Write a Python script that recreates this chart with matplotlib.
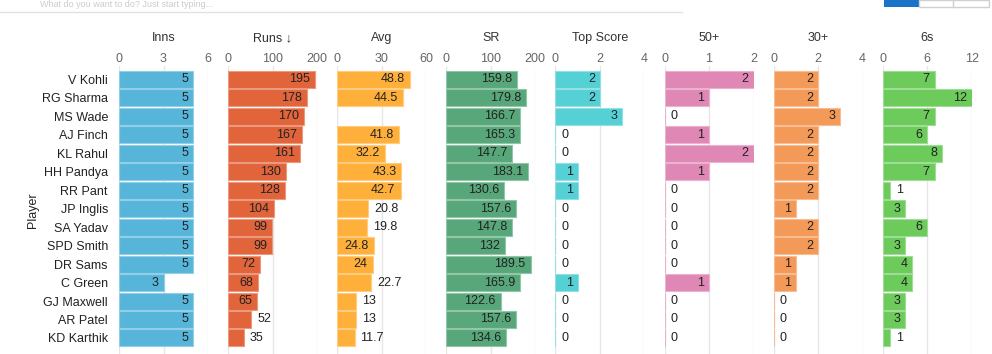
import matplotlib
matplotlib.use('Agg')
import matplotlib.pyplot as plt
from matplotlib.colors import to_rgb
from matplotlib.patches import Rectangle
import numpy as np

plt.rcParams['font.family'] = ['Liberation Sans', 'DejaVu Sans']

# data
players = ['V Kohli', 'RG Sharma', 'MS Wade', 'AJ Finch', 'KL Rahul', 'HH Pandya', 'RR Pant',
           'JP Inglis', 'SA Yadav', 'SPD Smith', 'DR Sams', 'C Green', 'GJ Maxwell', 'AR Patel',
           'KD Karthik']
inns = [5, 5, 5, 5, 5, 5, 5, 5, 5, 5, 5, 3, 5, 5, 5]
runs = [195, 178, 170, 167, 161, 130, 128, 104, 99, 99, 72, 68, 65, 52, 35]
avg = [48.8, 44.5, None, 41.8, 32.2, 43.3, 42.7, 20.8, 19.8, 24.8, 24, 22.7, 13, 13, 11.7]
sr = [159.8, 179.8, 166.7, 165.3, 147.7, 183.1, 130.6, 157.6, 147.8, 132, 189.5, 165.9,
      122.6, 157.6, 134.6]
top_score = [2, 2, 3, 0, 0, 1, 1, 0, 0, 0, 0, 1, 0, 0, 0]
fifties = [2, 1, 0, 1, 2, 1, 0, 0, 0, 0, 0, 1, 0, 0, 0]
thirties = [2, 2, 3, 2, 2, 2, 2, 1, 2, 2, 1, 1, 0, 0, 0]
sixes = [7, 12, 7, 6, 8, 7, 1, 3, 6, 3, 4, 4, 3, 3, 1]

titles = ['Inns', 'Runs \u2193', 'Avg', 'SR', 'Top Score', '50+', '30+', '6s']
series = [inns, runs, avg, sr, top_score, fifties, thirties, sixes]
ticks = [[0, 3, 6], [0, 100, 200], [0, 30, 60], [0, 100, 200],
         [0, 2, 4], [0, 1, 2], [0, 2, 4], [0, 6, 12]]
colors = ['#57b5da', '#e2643a', '#ffb03b', '#58a77b', '#55d0d5', '#e088b5', '#f49a58', '#6ccb5a']

W, H = 992, 354
fig = plt.figure(figsize=(W / 100, H / 100), dpi=100)
renderer = fig.canvas.get_renderer()


def lighten(c, f=0.35):
    r, g, b = to_rgb(c)
    return (r + (1 - r) * f, g + (1 - g) * f, b + (1 - b) * f)


# top UI remnants
fig.text(40 / W, 1.0, 'What do you want to do? Just start typing...', fontsize=6.5,
         color='#cccccc', va='top')
fig.add_artist(plt.Line2D([0, 682 / W], [1 - 12 / H, 1 - 12 / H], color='#e2e2e2', lw=1))
fig.add_artist(Rectangle((884 / W, 1 - 7 / H), 35 / W, 7 / H, color='#1a73c9', lw=0))
fig.add_artist(Rectangle((919 / W, 1 - 7 / H), 70 / W, 7 / H, facecolor='white',
                         edgecolor='#d0d0d0', lw=1))
fig.add_artist(plt.Line2D([953 / W, 953 / W], [1 - 7 / H, 1], color='#d0d0d0', lw=1))

top_px, bot_px = 66, 354
ypos = np.arange(len(players))
for i in range(8):
    left = 119 + 109.1 * i
    ax = fig.add_axes([left / W, 1 - bot_px / H, 89 / W, (bot_px - top_px) / H])
    vals = series[i]
    ax.set_xlim(ticks[i][0], ticks[i][-1])
    ax.set_ylim(14.87, -0.73)
    for t in ticks[i]:
        ax.axvline(t, color='#e6e6e6', lw=1, zorder=0)
    ax.xaxis.tick_top()
    ax.set_xticks(ticks[i])
    ax.tick_params(axis='x', length=0, pad=1, labelsize=9, labelcolor='#666666')
    for s in ax.spines.values():
        s.set_visible(False)
    if i == 0:
        ax.set_yticks(ypos)
        ax.set_yticklabels(players)
        ax.tick_params(axis='y', length=0, pad=8, labelsize=9, labelcolor='#222222')
        ax.set_ylabel('Player', fontsize=9, color='#222222', labelpad=2)
    else:
        ax.set_yticks([])
    ax.text(0.5, 1 + 28 / (bot_px - top_px), titles[i], transform=ax.transAxes,
            ha='center', va='center', fontsize=9, color='#333333')

    for y, v in zip(ypos, vals):
        if v is None:
            continue
        ax.barh(y, v, height=0.92, color=colors[i], edgecolor=lighten(colors[i]),
                linewidth=0.8, zorder=2)
        label = '{:g}'.format(v)
        t = ax.annotate(label, (v, y), xytext=(-5, 0), textcoords='offset pixels',
                        ha='right', va='center', fontsize=9, color='#222222', zorder=3)
        tw = t.get_window_extent(renderer).width
        x0 = ax.transData.transform((0, y))[0]
        x1 = ax.transData.transform((v, y))[0]
        if x1 - x0 < tw + 12:
            t.set_position((6, 0))
            t.set_ha('left')

fig.savefig('out.png', dpi=100)
